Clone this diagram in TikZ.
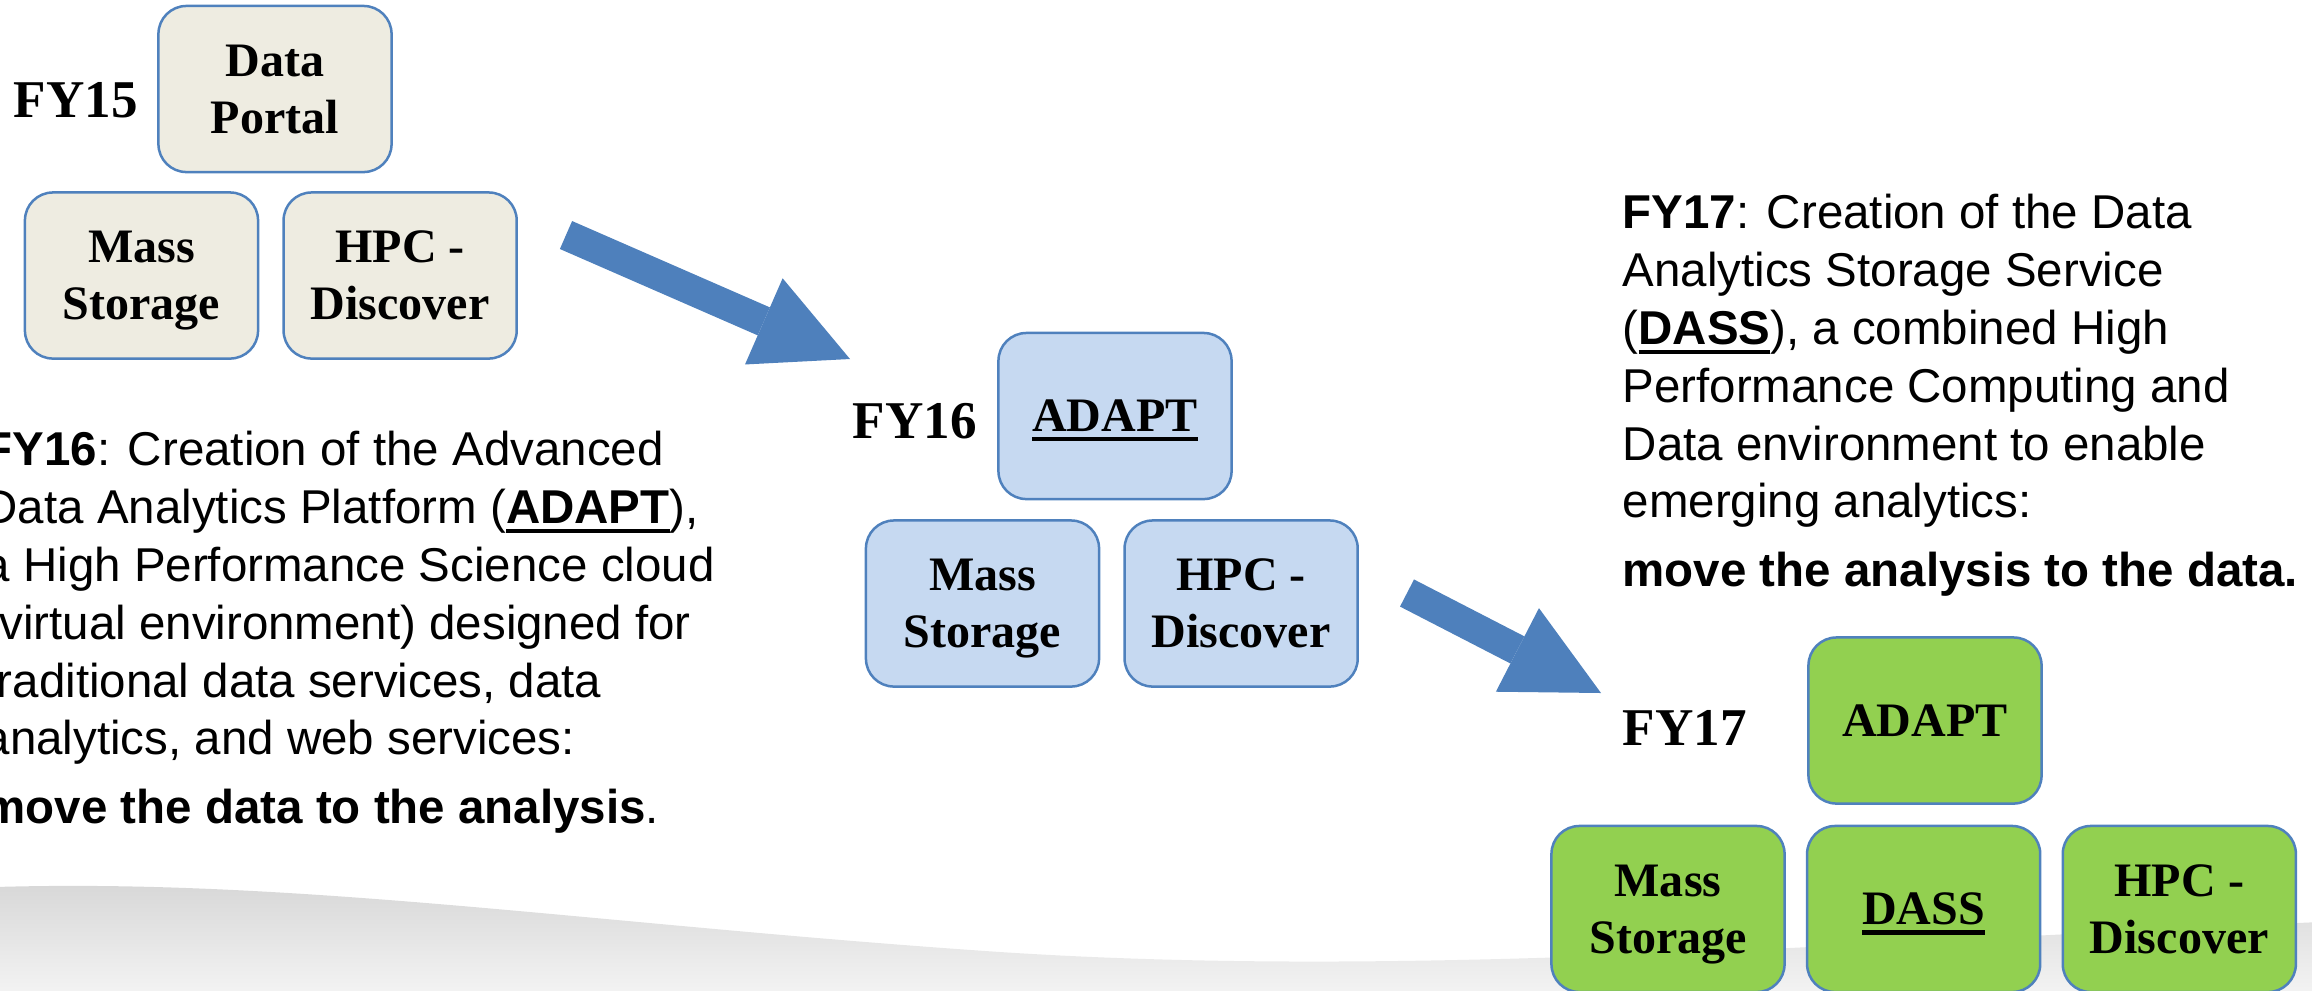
\documentclass[tikz,border=0pt]{standalone}
\usepackage{fontspec}
\setmainfont{Liberation Serif}
\newfontfamily\notefont{Liberation Sans}
\usepackage{tikz}
\usetikzlibrary{arrows.meta, positioning}
\usepackage{xcolor}
\definecolor{portalbeige}{rgb}{0.933, 0.925, 0.882}
\definecolor{adaptblue}{rgb}{0.776, 0.851, 0.945}
\definecolor{dassgreen}{rgb}{0.573, 0.816, 0.314}
\definecolor{edgeblue}{rgb}{0.31, 0.506, 0.741}
\definecolor{arrowblue}{rgb}{0.306, 0.502, 0.737}

\newsavebox\undlbox
\newcommand\undl[1]{\sbox\undlbox{#1}\rlap{\rule[-0.2em]{\wd\undlbox}{0.09em}}\usebox\undlbox}

\begin{document}
\begin{tikzpicture}[x=0.01cm, y=-0.01cm,
		tier/.style={draw=edgeblue, line width=0.025cm, rounded corners=0.28cm, minimum width=2.33cm, minimum height=1.66cm, inner sep=0pt, text depth=0pt, align=center, font=\bfseries\fontsize{13.66pt}{16.2pt}\selectfont},
		fy/.style={inner sep=0pt, anchor=base west, font=\bfseries\fontsize{15.1pt}{18pt}\selectfont},
		note/.style={inner sep=0pt, anchor=base west, align=left, font=\notefont\fontsize{13.5pt}{16.45pt}\selectfont},
		stagearrow/.style={draw=arrowblue, line width=0.305cm, -{Triangle[length=0.94cm, width=0.94cm, line width=0pt]}}
	]
	\clip (0,0) rectangle (2312,990);
	\shade[top color=gray!32, bottom color=gray!8] (-5,887) .. controls (300,878) and (600,925) .. (1000,952) .. controls (1400,978) and (1800,945) .. (2320,922) -- (2320,1000) -- (-5,1000) -- cycle;

	% FY15
	\node[fy] (fy15) at (13,117) {FY15};
	\node[tier, fill=portalbeige] (dp15) at (275,89) {Data\\Portal};
	\node[tier, fill=portalbeige] (ms15) at (141.5,275.5) {Mass\\Storage};
	\node[tier, fill=portalbeige, right=0.23cm of ms15] (hpc15) {HPC -\\Discover};

	% FY16
	\node[fy] (fy16) at (852,438) {FY16};
	\node[tier, fill=adaptblue] (ad16) at (1115,416) {\undl{ADAPT}};
	\node[tier, fill=adaptblue] (ms16) at (982.5,603.5) {Mass\\Storage};
	\node[tier, fill=adaptblue, right=0.23cm of ms16] (hpc16) {HPC -\\Discover};
	\node[note] (txt16) at (-17,823) {\textbf{FY16}: Creation of the Advanced\\
		Data Analytics Platform (\textbf{\undl{ADAPT}}),\\
		a High Performance Science cloud\\
		(virtual environment) designed for\\
		traditional data services, data\\
		analytics, and web services:\\[2.9pt]
		\textbf{move the data to the analysis}.};

	% FY17
	\node[fy] (fy17) at (1622,745) {FY17};
	\node[tier, fill=dassgreen] (ad17) at (1925,720.5) {ADAPT};
	\node[tier, fill=dassgreen] (ms17) at (1668,909) {Mass\\Storage};
	\node[tier, fill=dassgreen, right=0.2cm of ms17] (ds17) {\undl{DASS}};
	\node[tier, fill=dassgreen, right=0.2cm of ds17] (hpc17) {HPC -\\Discover};
	\node[note] (txt17) at (1622,586) {\textbf{FY17}: Creation of the Data\\
		Analytics Storage Service\\
		(\textbf{\undl{DASS}}), a combined High\\
		Performance Computing and\\
		Data environment to enable\\
		emerging analytics:\\[2.9pt]
		\textbf{move the analysis to the data.}};

	% stage arrows
	\coordinate (a1s) at (566,235);
	\coordinate (a1e) at (850,359);
	\coordinate (a2s) at (1407,593);
	\coordinate (a2e) at (1601,693);
	\draw[stagearrow] (a1s) -- (a1e);
	\draw[stagearrow] (a2s) -- (a2e);
\end{tikzpicture}
\end{document}
